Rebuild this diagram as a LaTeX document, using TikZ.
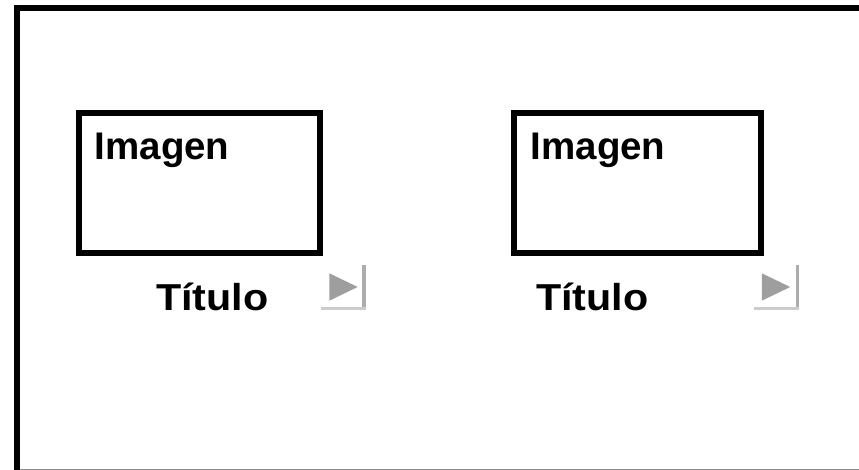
\documentclass[tikz,border=0pt]{standalone}
\usepackage{fontspec}
\setmainfont{Liberation Sans}
\begin{document}
\begin{tikzpicture}[x=1pt,y=-1pt,
  frame/.style={draw=black,line width=6pt},
  imgbox/.style={draw=black,line width=6pt,line join=miter},
  imgtext/.style={anchor=base west,inner sep=0pt,font=\fontsize{38.5}{40}\selectfont\bfseries},
  tittext/.style={anchor=base west,inner sep=0pt,xscale=1.1,font=\fontsize{37.5}{40}\selectfont\bfseries},
  tri/.style={fill=black!38},
  vbar/.style={fill=black!32},
  hbar/.style={fill=black!20}]
\useasboundingbox (0,0) rectangle (859,470);
% outer frame
\draw[frame] (17,470) -- (17,8) -- (870,8);
\fill[black!45] (20,468.5) rectangle (859,470);
% boxes
\draw[imgbox] (78.5,113.5) rectangle (320,253.5);
\draw[imgbox] (513.5,113.5) rectangle (761,253);
\node[imgtext] (img1) at (94.5,160) {Imagen};
\node[imgtext] (img2) at (530.5,160) {Imagen};
\node[tittext] (tit1) at (156,310) {Título};
\node[tittext] (tit2) at (536,310) {Título};
% icons
\foreach \dx/\vx in {0/0, 432.5/433.5} {
  \fill[tri] (329.3+\dx,273.3) -- (357.7+\dx,287) -- (329.3+\dx,300.7) -- cycle;
  \fill[vbar] (362.3+\vx,265) rectangle (365.7+\vx,310);
  \fill[hbar] (321+\dx,306.7) rectangle (365.7+\vx,310);
}
\end{tikzpicture}
\end{document}
